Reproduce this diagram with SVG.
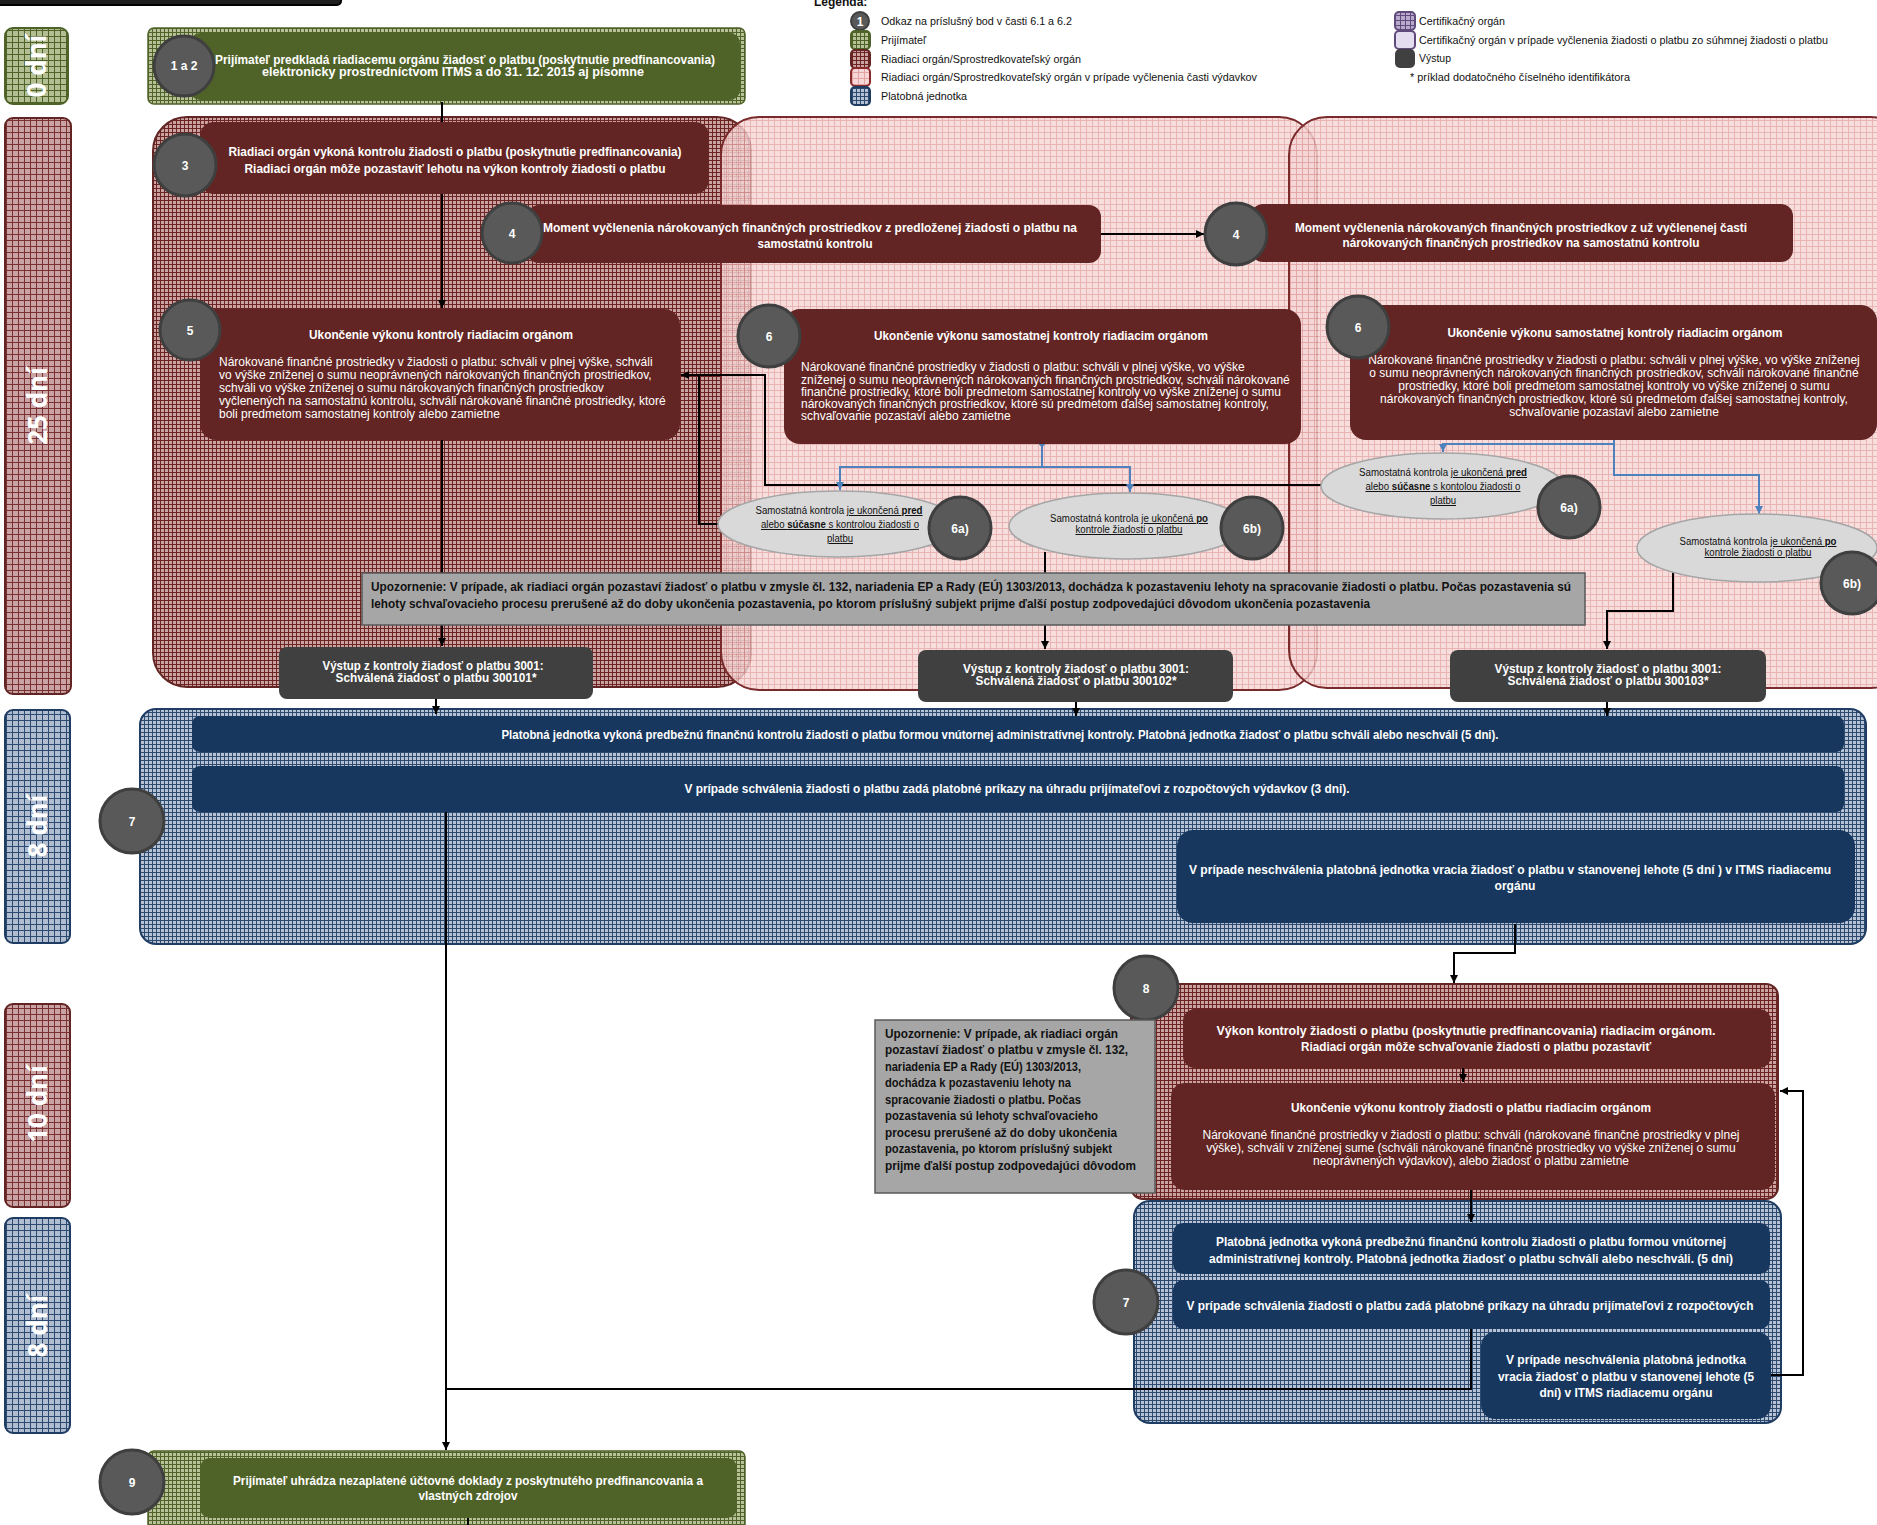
<svg xmlns="http://www.w3.org/2000/svg" width="1877" height="1525" viewBox="0 0 1877 1525">
<defs>
<pattern id="pRed" width="4" height="4" patternUnits="userSpaceOnUse"><rect width="4" height="4" fill="#caa2a2"/><path d="M0 .5H4M.5 0V4" stroke="#6b2422" stroke-width="1"/></pattern>
<pattern id="pRedL" width="6" height="6" patternUnits="userSpaceOnUse"><rect width="6" height="6" fill="#c9a3a3"/><path d="M0 .5H6M.5 0V6" stroke="#7a3030" stroke-width="1"/></pattern>
<pattern id="pPink" width="6" height="6" patternUnits="userSpaceOnUse"><rect width="6" height="6" fill="#f6d6d6"/><path d="M0 .5H6M.5 0V6" stroke="#e3a4a4" stroke-width="1"/></pattern>
<pattern id="pBlue" width="4" height="4" patternUnits="userSpaceOnUse"><rect width="4" height="4" fill="#b6c2d4"/><path d="M0 .5H4M.5 0V4" stroke="#2c4a70" stroke-width="1"/></pattern>
<pattern id="pBlueL" width="6" height="6" patternUnits="userSpaceOnUse"><rect width="6" height="6" fill="#b0bdd0"/><path d="M0 .5H6M.5 0V6" stroke="#2c4a70" stroke-width="1"/></pattern>
<pattern id="pGreen" width="4" height="4" patternUnits="userSpaceOnUse"><rect width="4" height="4" fill="#b7c198"/><path d="M0 .5H4M.5 0V4" stroke="#4f6228" stroke-width="1"/></pattern>
<pattern id="pGreenL" width="6" height="6" patternUnits="userSpaceOnUse"><rect width="6" height="6" fill="#b3be92"/><path d="M0 .5H6M.5 0V6" stroke="#4f6228" stroke-width="1"/></pattern>
<pattern id="pPurp" width="5" height="5" patternUnits="userSpaceOnUse"><rect width="5" height="5" fill="#b9aacb"/><path d="M0 .5H5M.5 0V5" stroke="#5f4a7b" stroke-width="1"/></pattern>
<marker id="ah" viewBox="0 0 10 10" refX="10" refY="5" markerWidth="8" markerHeight="8" markerUnits="userSpaceOnUse" orient="auto"><path d="M0,0 L10,5 L0,10 z" fill="#000"/></marker>
<marker id="ab" viewBox="0 0 10 10" refX="10" refY="5" markerWidth="8" markerHeight="8" markerUnits="userSpaceOnUse" orient="auto"><path d="M0,0 L10,5 L0,10 z" fill="#4f81bd"/></marker>
<marker id="db" viewBox="0 0 10 10" refX="5" refY="5" markerWidth="7" markerHeight="7" markerUnits="userSpaceOnUse" orient="auto"><path d="M0,5 L5,0 L10,5 L5,10 z" fill="#4f81bd"/></marker>
<style>
.tb{font-family:"Liberation Sans",Arial,sans-serif;font-weight:bold;font-size:13px;fill:#fff;text-anchor:middle}
.tr{font-family:"Liberation Sans",Arial,sans-serif;font-size:12px;fill:#fff}
.tw{font-family:"Liberation Sans",Arial,sans-serif;font-weight:bold;font-size:13.5px;fill:#111}
.te{font-family:"Liberation Sans",Arial,sans-serif;font-size:10px;fill:#111;text-anchor:middle}
.lg{font-family:"Liberation Sans",Arial,sans-serif;font-size:11.5px;fill:#111}
.side{font-family:"Noto Sans","DejaVu Sans",sans-serif;font-weight:bold;font-size:26px;fill:#fff;text-anchor:middle}
.cir{fill:#595959;stroke:#3f3f3f;stroke-width:3}
.ct{font-family:"Liberation Sans",Arial,sans-serif;font-weight:bold;font-size:12px;fill:#fff;text-anchor:middle}
.red{fill:#632523}
.blu{fill:#17375e}
.grn{fill:#4f6228}
.out{fill:#404040}
.warn{fill:#a6a6a6;stroke:#595959;stroke-width:1.5}
.ell{fill:#d9d9d9;stroke:#a6a6a6;stroke-width:1.5}
.c{fill:none;stroke:#000;stroke-width:2}
.cb{fill:none;stroke:#4f81bd;stroke-width:2}
.u{text-decoration:underline}
</style>
</defs>
<rect width="1877" height="1525" fill="#fff"/>

<g id="titlebar"><rect x="-5" y="-30" width="346" height="35" rx="4" fill="#1e1e1e" stroke="#000" stroke-width="2"/></g>

<g id="legend">
<text x="814" y="6" font-family="Liberation Sans,Arial,sans-serif" font-weight="bold" font-size="12" fill="#111">Legenda:</text>
<circle cx="860" cy="21" r="9" fill="#595959" stroke="#3f3f3f" stroke-width="2"/>
<text x="860" y="25.5" class="ct">1</text>
<rect x="851" y="31" width="19" height="18" rx="4" fill="url(#pGreen)" stroke="#4f6228" stroke-width="2"/>
<rect x="851" y="50" width="19" height="18" rx="4" fill="url(#pRed)" stroke="#632523" stroke-width="2"/>
<rect x="851" y="68" width="19" height="18" rx="4" fill="url(#pPink)" stroke="#8a2b2b" stroke-width="2"/>
<rect x="851" y="87" width="19" height="18" rx="4" fill="url(#pBlue)" stroke="#1f3d63" stroke-width="2"/>
<text x="881" y="25" class="lg" textLength="191" lengthAdjust="spacingAndGlyphs">Odkaz na príslušný bod v časti 6.1 a 6.2</text>
<text x="881" y="44" class="lg" textLength="45" lengthAdjust="spacingAndGlyphs">Prijímateľ</text>
<text x="881" y="63" class="lg" textLength="200" lengthAdjust="spacingAndGlyphs">Riadiaci orgán/Sprostredkovateľský orgán</text>
<text x="881" y="81" class="lg" textLength="376" lengthAdjust="spacingAndGlyphs">Riadiaci orgán/Sprostredkovateľský orgán v prípade vyčlenenia časti výdavkov</text>
<text x="881" y="100" class="lg" textLength="86" lengthAdjust="spacingAndGlyphs">Platobná jednotka</text>
<rect x="1395" y="12" width="20" height="18" rx="4" fill="url(#pPurp)" stroke="#5f4a7b" stroke-width="2"/>
<rect x="1395" y="31" width="20" height="18" rx="4" fill="#e4ddf0" stroke="#5f4a7b" stroke-width="2"/>
<rect x="1395" y="49" width="20" height="19" rx="5" fill="#404040"/>
<text x="1419" y="25" class="lg" textLength="86" lengthAdjust="spacingAndGlyphs">Certifikačný orgán</text>
<text x="1419" y="44" class="lg" textLength="409" lengthAdjust="spacingAndGlyphs">Certifikačný orgán v prípade vyčlenenia žiadosti o platbu zo súhmnej žiadosti o platbu</text>
<text x="1419" y="62" class="lg" textLength="32" lengthAdjust="spacingAndGlyphs">Výstup</text>
<text x="1410" y="81" class="lg" textLength="220" lengthAdjust="spacingAndGlyphs">*  príklad dodatočného číselného identifikátora</text>
</g>

<g id="sidelabels">
<rect x="5" y="28" width="63" height="76" rx="8" fill="url(#pGreenL)" stroke="#4f6228" stroke-width="2"/>
<text class="side" transform="translate(46,66) rotate(-90)">0 dní</text>
<rect x="5" y="118" width="66" height="576" rx="8" fill="url(#pRedL)" stroke="#632523" stroke-width="2"/>
<text class="side" transform="translate(47,406) rotate(-90)">25 dní</text>
<rect x="5" y="710" width="65" height="233" rx="8" fill="url(#pBlueL)" stroke="#1f3d63" stroke-width="2"/>
<text class="side" transform="translate(47,826) rotate(-90)">8 dní</text>
<rect x="5" y="1004" width="65" height="203" rx="8" fill="url(#pRedL)" stroke="#632523" stroke-width="2"/>
<text class="side" transform="translate(47,1104) rotate(-90)">10 dní</text>
<rect x="5" y="1218" width="65" height="215" rx="8" fill="url(#pBlueL)" stroke="#1f3d63" stroke-width="2"/>
<text class="side" transform="translate(47,1326) rotate(-90)">8 dní</text>
</g>

<g id="containers">
<rect x="153" y="117" width="598" height="570" rx="34" fill="url(#pRed)" stroke="#632523" stroke-width="2"/>
<rect x="721" y="117" width="596" height="573" rx="38" fill="url(#pPink)" fill-opacity="0.82" stroke="#7a2a2a" stroke-width="2"/>
<rect x="1289" y="117" width="620" height="571" rx="38" fill="url(#pPink)" fill-opacity="0.82" stroke="#7a2a2a" stroke-width="2"/>
<rect x="140" y="709" width="1726" height="235" rx="16" fill="url(#pBlue)" stroke="#1f3d63" stroke-width="2"/>
<rect x="1131" y="984" width="647" height="215" rx="12" fill="url(#pRed)" stroke="#632523" stroke-width="2"/>
<rect x="1134" y="1201" width="647" height="222" rx="16" fill="url(#pBlue)" stroke="#1f3d63" stroke-width="2"/>
<rect x="148" y="1451" width="597" height="90" rx="6" fill="url(#pGreen)" stroke="#4f6228" stroke-width="1.5"/>
<rect x="148" y="28" width="597" height="76" rx="6" fill="url(#pGreen)" stroke="#4f6228" stroke-width="1.5"/>
</g>

<g id="connectors">
<path class="c" d="M442,102 V131" marker-end="url(#ah)"/>
<path class="c" d="M442,194 V308" marker-end="url(#ah)"/>
<path class="c" d="M442,440 V646" marker-end="url(#ah)"/>
<path class="c" d="M436,699 V714" marker-end="url(#ah)"/>
<path class="c" d="M719,524 H699 V375 H681" marker-end="url(#ah)"/>
<path class="c" d="M1321,485 H765 V375 H699"/>
<path class="c" d="M1101,234 H1204" marker-end="url(#ah)"/>
<path class="c" d="M1045,552 V649" marker-end="url(#ah)"/>
<path class="c" d="M1076,702 V716" marker-end="url(#ah)"/>
<path class="c" d="M1673,572 V611 H1607 V649" marker-end="url(#ah)"/>
<path class="c" d="M1607,702 V716" marker-end="url(#ah)"/>
<path class="c" d="M446,812 V1450" marker-end="url(#ah)"/>
<path class="c" d="M1515,924 V953 H1454 V983" marker-end="url(#ah)"/>
<path class="c" d="M1463,1068 V1082" marker-end="url(#ah)"/>
<path class="c" d="M1471,1190 V1222" marker-end="url(#ah)"/>
<path class="c" d="M1471,1329 V1389 H446"/>
<path class="c" d="M1771,1375 H1803 V1091 H1780" marker-end="url(#ah)"/>
<path class="c" d="M468,1518 V1526"/>
<path class="cb" d="M1042,444 V467 H840 V490" marker-start="url(#db)" marker-end="url(#ab)"/>
<path class="cb" d="M1042,467 H1130 V492" marker-end="url(#ab)"/>
<path class="cb" d="M1614,440 V444 H1443 V452" marker-end="url(#ab)"/>
<path class="cb" d="M1614,444 V475 H1759 V514" marker-end="url(#ab)"/>
</g>

<g id="n12">
<rect x="190" y="33" width="550" height="67" rx="10" class="grn"/>
<text class="tb" x="465" y="64" textLength="500" lengthAdjust="spacingAndGlyphs">Prijímateľ predkladá riadiacemu orgánu žiadosť o platbu  (poskytnutie predfinancovania)</text>
<text class="tb" x="453" y="76" textLength="382" lengthAdjust="spacingAndGlyphs">elektronicky prostredníctvom ITMS a do 31. 12. 2015 aj písomne</text>
<circle cx="184" cy="66" r="30" class="cir"/><text class="ct" x="184" y="70">1 a 2</text>
</g>

<g id="n3">
<rect x="200" y="122" width="509" height="72" rx="14" class="red"/>
<text class="tb" x="455" y="156" textLength="453" lengthAdjust="spacingAndGlyphs">Riadiaci orgán vykoná kontrolu žiadosti o platbu (poskytnutie predfinancovania)</text>
<text class="tb" x="455" y="173" textLength="421" lengthAdjust="spacingAndGlyphs">Riadiaci orgán  môže pozastaviť lehotu na výkon kontroly žiadosti o platbu</text>
<circle cx="185" cy="165" r="31" class="cir"/><text class="ct" x="185" y="170">3</text>
</g>

<g id="n4a">
<rect x="527" y="205" width="574" height="58" rx="12" class="red"/>
<text class="tb" x="810" y="232" textLength="534" lengthAdjust="spacingAndGlyphs">Moment vyčlenenia nárokovaných finančných prostriedkov z predloženej žiadosti o platbu na</text>
<text class="tb" x="815" y="248" textLength="115" lengthAdjust="spacingAndGlyphs">samostatnú kontrolu</text>
<circle cx="512" cy="233" r="30" class="cir"/><text class="ct" x="512" y="238">4</text>
</g>

<g id="n4b">
<rect x="1251" y="204" width="542" height="58" rx="12" class="red"/>
<text class="tb" x="1521" y="232" textLength="452" lengthAdjust="spacingAndGlyphs">Moment vyčlenenia nárokovaných finančných prostriedkov z už vyčlenenej časti</text>
<text class="tb" x="1521" y="247" textLength="357" lengthAdjust="spacingAndGlyphs">nárokovaných finančných prostriedkov na samostatnú kontrolu</text>
<circle cx="1236" cy="234" r="31" class="cir"/><text class="ct" x="1236" y="239">4</text>
</g>

<g id="n5">
<rect x="200" y="309" width="480" height="131" rx="16" class="red"/>
<text class="tb" x="441" y="339" textLength="264" lengthAdjust="spacingAndGlyphs">Ukončenie výkonu kontroly riadiacim orgánom</text>
<text class="tr" x="219" y="366">Nárokované finančné prostriedky v žiadosti o platbu:  schváli  v  plnej výške, schváli</text>
<text class="tr" x="219" y="379">vo výške zníženej o sumu neoprávnených nárokovaných finančných prostriedkov,</text>
<text class="tr" x="219" y="392">schváli vo výške zníženej o sumu nárokovaných finančných prostriedkov</text>
<text class="tr" x="219" y="405">vyčlenených na samostatnú kontrolu, schváli nárokované finančné prostriedky, ktoré</text>
<text class="tr" x="219" y="418">boli predmetom samostatnej kontroly alebo zamietne</text>
<circle cx="190" cy="330" r="30" class="cir"/><text class="ct" x="190" y="335">5</text>
</g>

<g id="n6a">
<rect x="784" y="309" width="517" height="135" rx="16" class="red"/>
<text class="tb" x="1041" y="340" textLength="334" lengthAdjust="spacingAndGlyphs">Ukončenie výkonu samostatnej kontroly riadiacim orgánom</text>
<text class="tr" x="801" y="371">Nárokované finančné prostriedky v žiadosti o platbu:  schváli v plnej výške,  vo výške</text>
<text class="tr" x="801" y="384">zníženej o sumu neoprávnených nárokovaných finančných prostriedkov, schváli nárokované</text>
<text class="tr" x="801" y="396">finančné prostriedky, ktoré boli predmetom samostatnej kontroly vo výške zníženej o sumu</text>
<text class="tr" x="801" y="408">nárokovaných finančných prostriedkov, ktoré sú predmetom ďalšej samostatnej kontroly,</text>
<text class="tr" x="801" y="420">schvaľovanie pozastaví alebo zamietne</text>
<circle cx="769" cy="336" r="31" class="cir"/><text class="ct" x="769" y="341">6</text>
</g>

<g id="n6b">
<rect x="1350" y="305" width="527" height="135" rx="16" class="red"/>
<text class="tb" x="1615" y="337" textLength="335" lengthAdjust="spacingAndGlyphs">Ukončenie výkonu samostatnej kontroly riadiacim orgánom</text>
<g class="tr" text-anchor="middle">
<text x="1614" y="364">Nárokované finančné prostriedky v žiadosti o platbu:  schváli v plnej výške,  vo výške zníženej</text>
<text x="1614" y="377">o sumu neoprávnených nárokovaných finančných prostriedkov, schváli nárokované finančné</text>
<text x="1614" y="390">prostriedky, ktoré boli predmetom samostatnej kontroly vo výške zníženej o sumu</text>
<text x="1614" y="403">nárokovaných finančných prostriedkov, ktoré sú predmetom ďalšej samostatnej kontroly,</text>
<text x="1614" y="416">schvaľovanie pozastaví alebo zamietne</text>
</g>
<circle cx="1358" cy="327" r="31" class="cir"/><text class="ct" x="1358" y="332">6</text>
</g>

<g id="e6a1">
<ellipse cx="838" cy="524" rx="120" ry="33" class="ell"/>
<text class="te" x="839" y="514" textLength="167" lengthAdjust="spacingAndGlyphs">Samostatná kontrola <tspan class="u">je ukončená <tspan font-weight="bold">pred</tspan></tspan></text>
<text class="te u" x="840" y="528" textLength="158" lengthAdjust="spacingAndGlyphs">alebo <tspan font-weight="bold">súčasne</tspan> s kontrolou žiadosti o</text>
<text class="te u" x="840" y="542" textLength="26" lengthAdjust="spacingAndGlyphs">platbu</text>
<circle cx="960" cy="528" r="31" class="cir"/><text class="ct" x="960" y="533">6a)</text>
</g>

<g id="e6b1">
<ellipse cx="1127" cy="526" rx="118" ry="33" class="ell"/>
<text class="te" x="1129" y="522" textLength="158" lengthAdjust="spacingAndGlyphs">Samostatná kontrola <tspan class="u">je ukončená <tspan font-weight="bold">po</tspan></tspan></text>
<text class="te u" x="1129" y="533" textLength="107" lengthAdjust="spacingAndGlyphs">kontrole žiadosti o platbu</text>
<circle cx="1252" cy="528" r="31" class="cir"/><text class="ct" x="1252" y="533">6b)</text>
</g>

<g id="e6a2">
<ellipse cx="1442" cy="486" rx="121" ry="33" class="ell"/>
<text class="te" x="1443" y="476" textLength="168" lengthAdjust="spacingAndGlyphs">Samostatná kontrola <tspan class="u">je ukončená <tspan font-weight="bold">pred</tspan></tspan></text>
<text class="te u" x="1443" y="490" textLength="155" lengthAdjust="spacingAndGlyphs">alebo <tspan font-weight="bold">súčasne</tspan> s kontolou žiadosti o</text>
<text class="te u" x="1443" y="504" textLength="26" lengthAdjust="spacingAndGlyphs">platbu</text>
<circle cx="1569" cy="507" r="31" class="cir"/><text class="ct" x="1569" y="512">6a)</text>
</g>

<g id="e6b2">
<ellipse cx="1757" cy="548" rx="120" ry="34" class="ell"/>
<text class="te" x="1758" y="545" textLength="157" lengthAdjust="spacingAndGlyphs">Samostatná kontrola <tspan class="u">je ukončená <tspan font-weight="bold">po</tspan></tspan></text>
<text class="te u" x="1758" y="556" textLength="107" lengthAdjust="spacingAndGlyphs">kontrole žiadosti o platbu</text>
<circle cx="1852" cy="583" r="31" class="cir"/><text class="ct" x="1852" y="588">6b)</text>
</g>

<g id="warn1">
<rect x="362" y="573" width="1223" height="52" class="warn"/>
<text class="tw" x="371" y="591" textLength="1200" lengthAdjust="spacingAndGlyphs">Upozornenie: V prípade, ak riadiaci orgán pozastaví žiadosť o platbu v zmysle čl. 132, nariadenia EP a Rady (EÚ) 1303/2013, dochádza k pozastaveniu lehoty na spracovanie žiadosti o platbu. Počas pozastavenia  sú</text>
<text class="tw" x="371" y="608" textLength="999" lengthAdjust="spacingAndGlyphs">lehoty schvaľovacieho procesu prerušené až do doby ukončenia pozastavenia, po ktorom príslušný subjekt prijme ďalší postup zodpovedajúci dôvodom ukončenia pozastavenia</text>
</g>

<g id="out1">
<rect x="279" y="647" width="314" height="52" rx="8" class="out"/>
<text class="tb" x="433" y="670" textLength="221" lengthAdjust="spacingAndGlyphs">Výstup z kontroly žiadosť o platbu 3001:</text>
<text class="tb" x="436" y="682" textLength="201" lengthAdjust="spacingAndGlyphs">Schválená žiadosť o platbu 300101*</text>
</g>
<g id="out2">
<rect x="918" y="650" width="315" height="52" rx="8" class="out"/>
<text class="tb" x="1076" y="673" textLength="226" lengthAdjust="spacingAndGlyphs">Výstup z kontroly žiadosť o platbu 3001:</text>
<text class="tb" x="1076" y="685" textLength="201" lengthAdjust="spacingAndGlyphs">Schválená žiadosť o platbu 300102*</text>
</g>
<g id="out3">
<rect x="1450" y="650" width="316" height="52" rx="8" class="out"/>
<text class="tb" x="1608" y="673" textLength="227" lengthAdjust="spacingAndGlyphs">Výstup z kontroly žiadosť o platbu 3001:</text>
<text class="tb" x="1608" y="685" textLength="201" lengthAdjust="spacingAndGlyphs">Schválená žiadosť o platbu 300103*</text>
</g>

<g id="pj1">
<rect x="192" y="716" width="1652" height="36" rx="8" class="blu"/>
<text class="tb" x="1000" y="739" textLength="997" lengthAdjust="spacingAndGlyphs">Platobná jednotka vykoná predbežnú finančnú kontrolu žiadosti o platbu formou vnútornej administratívnej kontroly. Platobná jednotka žiadosť o platbu schváli alebo neschváli (5 dni).</text>
<rect x="192" y="766" width="1652" height="46" rx="8" class="blu"/>
<text class="tb" x="1017" y="793" textLength="665" lengthAdjust="spacingAndGlyphs">V prípade schválenia  žiadosti o platbu zadá platobné príkazy na úhradu prijímateľovi z rozpočtových výdavkov (3 dni).</text>
<rect x="1177" y="830" width="678" height="93" rx="16" class="blu"/>
<text class="tb" x="1510" y="874" textLength="642" lengthAdjust="spacingAndGlyphs">V prípade neschválenia  platobná jednotka vracia žiadosť o platbu v stanovenej lehote (5 dní ) v ITMS riadiacemu</text>
<text class="tb" x="1515" y="890" textLength="41" lengthAdjust="spacingAndGlyphs">orgánu</text>
<circle cx="132" cy="821" r="32" class="cir"/><text class="ct" x="132" y="826">7</text>
</g>

<g id="n8">
<rect x="1183" y="1009" width="588" height="59" rx="12" class="red"/>
<text class="tb" x="1466" y="1035" textLength="499" lengthAdjust="spacingAndGlyphs">Výkon kontroly žiadosti o platbu (poskytnutie predfinancovania)  riadiacim orgánom.</text>
<text class="tb" x="1476" y="1051" textLength="350" lengthAdjust="spacingAndGlyphs">Riadiaci orgán môže schvaľovanie žiadosti o platbu pozastaviť</text>
<circle cx="1146" cy="988" r="32" class="cir"/><text class="ct" x="1146" y="993">8</text>
</g>

<g id="n8u">
<rect x="1171" y="1083" width="604" height="107" rx="14" class="red"/>
<text class="tb" x="1471" y="1112" textLength="360" lengthAdjust="spacingAndGlyphs">Ukončenie výkonu kontroly žiadosti o platbu riadiacim orgánom</text>
<g class="tr" text-anchor="middle">
<text x="1471" y="1139">Nárokované finančné prostriedky v žiadosti o platbu:  schváli (nárokované finančné prostriedky v plnej</text>
<text x="1471" y="1152">výške), schváli v zníženej sume (schváli nárokované finančné prostriedky vo výške zníženej o sumu</text>
<text x="1471" y="1165">neoprávnených výdavkov), alebo žiadosť o platbu zamietne</text>
</g>
</g>

<g id="warn2">
<rect x="875" y="1020" width="280" height="173" class="warn"/>
<text class="tw" x="885" y="1038" textLength="233" lengthAdjust="spacingAndGlyphs">Upozornenie: V prípade, ak riadiaci orgán</text>
<text class="tw" x="885" y="1054" textLength="243" lengthAdjust="spacingAndGlyphs">pozastaví žiadosť o platbu v zmysle čl. 132,</text>
<text class="tw" x="885" y="1071" textLength="196" lengthAdjust="spacingAndGlyphs">nariadenia EP a Rady (EÚ) 1303/2013,</text>
<text class="tw" x="885" y="1087" textLength="186" lengthAdjust="spacingAndGlyphs">dochádza k pozastaveniu lehoty na</text>
<text class="tw" x="885" y="1104" textLength="196" lengthAdjust="spacingAndGlyphs">spracovanie žiadosti o platbu. Počas</text>
<text class="tw" x="885" y="1120" textLength="213" lengthAdjust="spacingAndGlyphs">pozastavenia  sú lehoty schvaľovacieho</text>
<text class="tw" x="885" y="1137" textLength="232" lengthAdjust="spacingAndGlyphs">procesu prerušené až do doby ukončenia</text>
<text class="tw" x="885" y="1153" textLength="227" lengthAdjust="spacingAndGlyphs">pozastavenia, po ktorom príslušný subjekt</text>
<text class="tw" x="885" y="1170" textLength="251" lengthAdjust="spacingAndGlyphs">prijme ďalší postup zodpovedajúci dôvodom</text>
</g>

<g id="pj2">
<rect x="1173" y="1223" width="597" height="51" rx="10" class="blu"/>
<text class="tb" x="1471" y="1246" textLength="510" lengthAdjust="spacingAndGlyphs">Platobná jednotka vykoná predbežnú finančnú kontrolu žiadosti o platbu formou vnútornej</text>
<text class="tb" x="1471" y="1263" textLength="524" lengthAdjust="spacingAndGlyphs">administratívnej kontroly. Platobná jednotka žiadosť o platbu schváli alebo neschváli.  (5 dni)</text>
<rect x="1173" y="1280" width="597" height="49" rx="10" class="blu"/>
<text class="tb" x="1470" y="1310" textLength="567" lengthAdjust="spacingAndGlyphs">V prípade schválenia  žiadosti o platbu zadá platobné príkazy na úhradu prijímateľovi z rozpočtových</text>
<rect x="1481" y="1332" width="290" height="87" rx="14" class="blu"/>
<text class="tb" x="1626" y="1364" textLength="240" lengthAdjust="spacingAndGlyphs">V prípade neschválenia  platobná jednotka</text>
<text class="tb" x="1626" y="1381" textLength="256" lengthAdjust="spacingAndGlyphs">vracia žiadosť o platbu v stanovenej lehote (5</text>
<text class="tb" x="1626" y="1397" textLength="173" lengthAdjust="spacingAndGlyphs">dní) v ITMS riadiacemu orgánu</text>
<circle cx="1126" cy="1302" r="32" class="cir"/><text class="ct" x="1126" y="1307">7</text>
</g>

<g id="n9">
<rect x="200" y="1458" width="537" height="60" rx="10" class="grn"/>
<text class="tb" x="468" y="1485" textLength="470" lengthAdjust="spacingAndGlyphs">Prijímateľ uhrádza nezaplatené účtovné doklady z poskytnutého predfinancovania a</text>
<text class="tb" x="468" y="1500" textLength="99" lengthAdjust="spacingAndGlyphs">vlastných zdrojov</text>
<circle cx="132" cy="1482" r="32" class="cir"/><text class="ct" x="132" y="1487">9</text>
</g>
</svg>
